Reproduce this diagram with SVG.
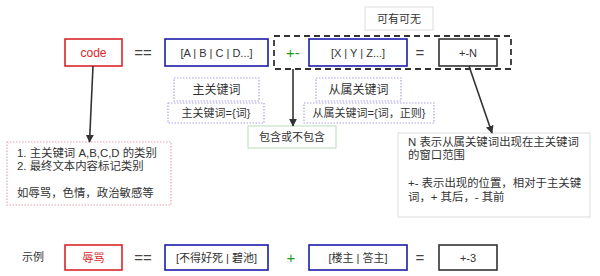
<svg xmlns="http://www.w3.org/2000/svg" width="600" height="276" viewBox="0 0 600 276">
<defs>
<marker id="ah" viewBox="0 0 10 10" refX="9" refY="5" markerWidth="5" markerHeight="5" orient="auto" markerUnits="strokeWidth">
<path d="M0,0 L10,5 L0,10 z" fill="#333"/>
</marker>
<style>
text{font-family:"Liberation Sans","Noto Sans CJK SC",sans-serif;font-size:11px;fill:#333;}
.c{text-anchor:middle;dominant-baseline:central;}
.n{font-size:11.4px;}
.red{fill:none;stroke:#d9262a;stroke-width:1.6;}
.blue{fill:none;stroke:#1c1ca8;stroke-width:1.6;}
.blk{fill:none;stroke:#333;stroke-width:1.6;}
.dash{fill:none;stroke:#333;stroke-width:1.8;stroke-dasharray:6,4;}
.dot{fill:none;stroke:#a9a4e6;stroke-width:1.2;stroke-dasharray:1.5,1.5;}
.pink{fill:none;stroke:#e8a5b0;stroke-width:1.2;stroke-dasharray:1.5,1.5;}
.gray{fill:#fff;stroke:#ddd;stroke-width:1;}
.green{fill:#fff;stroke:#b9dcb9;stroke-width:1;}
.op{font-size:15px;fill:#444;}
.g{fill:#1e9a1e;font-size:15px;}
.conn{stroke:#333;stroke-width:1.6;fill:none;marker-end:url(#ah);}
</style>
</defs>
<rect width="600" height="276" fill="#fff"/>

<g id="optional-note"><rect class="gray" x="365" y="7" width="68" height="23"/><text class="c" x="399" y="18.5">可有可无</text></g>
<g id="optional-group"><rect class="dash" x="274" y="36" width="237" height="33"/></g>

<g id="code"><rect class="red" x="65" y="39" width="57" height="27"/><text class="c" x="93.5" y="52.5" style="fill:#d9262a;font-size:12px">code</text></g>
<text class="c op" x="143" y="52">==</text>
<g id="main-kw"><rect class="blue" x="165" y="39" width="103" height="27"/><text class="c" x="216.5" y="52.5">[A | B | C | D...]</text></g>
<text class="c g" x="293" y="52">+-</text>
<g id="sub-kw"><rect class="blue" x="309" y="39" width="98" height="27"/><text class="c" x="358" y="52.5">[X | Y | Z...]</text></g>
<text class="c op" x="420" y="52">=</text>
<g id="window"><rect class="blk" x="439" y="39" width="58" height="27"/><text class="c" x="468" y="52.5">+-N</text></g>

<g id="main-label"><rect class="dot" x="174" y="78" width="85" height="23"/><text class="c" x="216.5" y="89.5" style="font-size:12px">主关键词</text></g>
<g id="main-def"><rect class="dot" x="168" y="103" width="96" height="20"/><text class="c" x="216" y="113">主关键词={词}</text></g>
<g id="sub-label"><rect class="dot" x="316" y="78" width="85" height="23"/><text class="c" x="358.5" y="89.5" style="font-size:12px">从属关键词</text></g>
<g id="sub-def"><rect class="dot" x="304" y="103" width="130" height="20"/><text class="c" x="369" y="113">从属关键词={词，正则}</text></g>

<g id="include-note"><rect class="green" x="248" y="126" width="88" height="22"/><text class="c" x="292" y="137">包含或不包含</text></g>

<g id="category-note"><rect class="pink" x="7" y="142" width="164" height="63"/>
<text class="n" x="17" y="157">1. 主关键词 A,B,C,D 的类别</text>
<text class="n" x="17" y="170">2. 最终文本内容标记类别</text>
<text class="n" x="17" y="197">如辱骂，色情，政治敏感等</text></g>

<g id="window-note"><rect class="gray" x="398" y="133" width="192" height="84"/>
<text class="n" x="408" y="146">N 表示从属关键词出现在主关键词</text>
<text class="n" x="408" y="159">的窗口范围</text>
<text class="n" x="408" y="187">+- 表示出现的位置，相对于主关键</text>
<text class="n" x="408" y="201">词，+ 其后，- 其前</text></g>

<g id="connectors">
<line class="conn" x1="93" y1="66" x2="89.5" y2="142"/>
<line class="conn" x1="293" y1="69" x2="293" y2="126"/>
<line class="conn" x1="469" y1="66" x2="492" y2="133"/>
</g>

<text class="c" x="33" y="257">示例</text>
<g id="ex-code"><rect class="red" x="65" y="245" width="57" height="25"/><text class="c" x="93.5" y="257.5" style="fill:#d9262a">辱骂</text></g>
<text class="c op" x="143" y="257">==</text>
<g id="ex-main"><rect class="blue" x="165" y="245" width="103" height="25"/><text class="c" x="216.5" y="257.5">[不得好死 | 碧池]</text></g>
<text class="c g" x="291" y="257">+</text>
<g id="ex-sub"><rect class="blue" x="309" y="245" width="98" height="25"/><text class="c" x="358" y="257.5">[楼主 | 答主]</text></g>
<text class="c op" x="420" y="257">=</text>
<g id="ex-window"><rect class="blk" x="439" y="245" width="58" height="25"/><text class="c" x="468" y="257.5">+-3</text></g>
</svg>
